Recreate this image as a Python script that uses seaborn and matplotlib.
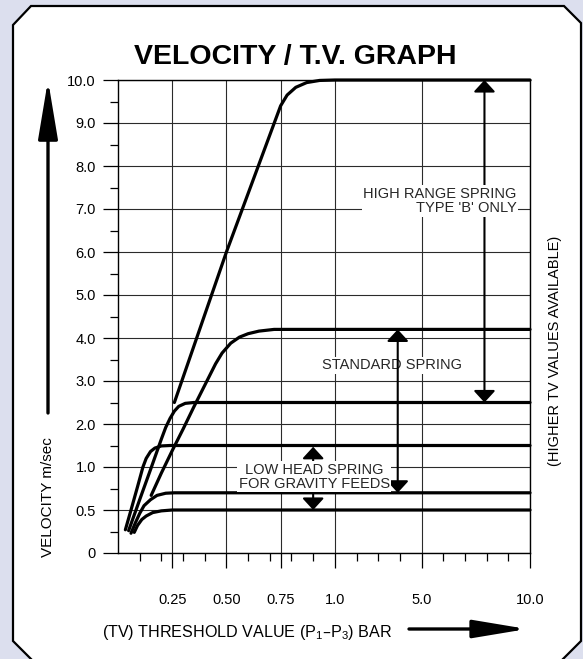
import numpy as np
import pandas as pd
import matplotlib
matplotlib.use("Agg")
import matplotlib.pyplot as plt
from matplotlib.patches import Polygon
import seaborn as sns

# spring curves: threshold value (bar) -> velocity (m/sec)
tv_05 = [0.075, 0.09, 0.11, 0.13, 0.16, 0.2, 0.25, 10.0]
vel_05 = [0.24, 0.32, 0.39, 0.43, 0.47, 0.49, 0.5, 0.5]

tv_07 = [0.06, 0.08, 0.1, 0.12, 0.15, 0.18, 0.22, 0.26, 10.0]
vel_07 = [0.23, 0.35, 0.46, 0.55, 0.62, 0.67, 0.695, 0.7, 0.7]

tv_15 = [0.034, 0.06, 0.09, 0.115, 0.13, 0.15, 0.17, 0.2, 0.24, 10.0]
vel_15 = [0.27, 0.5, 0.77, 1.0, 1.2, 1.36, 1.44, 1.49, 1.5, 1.5]

tv_25 = [0.049, 0.1, 0.15, 0.2, 0.22, 0.24, 0.26, 0.28, 0.31, 0.35, 10.0]
vel_25 = [0.26, 0.62, 0.97, 1.65, 1.92, 2.13, 2.3, 2.41, 2.48, 2.5, 2.5]

tv_42 = [0.153, 0.2, 0.25, 0.3, 0.35, 0.4, 0.45, 0.48, 0.52, 0.56, 0.6, 0.65, 0.72, 10.0]
vel_42 = [0.67, 0.93, 1.38, 1.88, 2.4, 2.9, 3.4, 3.65, 3.88, 4.02, 4.1, 4.16, 4.2, 4.2]

tv_10 = [0.26, 0.5, 0.75, 0.78, 0.82, 0.87, 0.93, 1.0, 10.0]
vel_10 = [2.5, 6.0, 9.4, 9.65, 9.83, 9.94, 9.99, 10.0, 10.0]

ytick_vals = [0, 0.5, 1, 2, 3, 4, 5, 6, 7, 8, 9, 10]
ytick_labels = ['0', '0.5', '1.0', '2.0', '3.0', '4.0', '5.0', '6.0', '7.0', '8.0', '9.0', '10.0']
ytick_minor = [0.25, 0.75, 1.5, 2.5, 3.5, 4.5, 5.5, 6.5, 7.5, 8.5, 9.5]
xtick_vals = [0.25, 0.5, 0.75, 1.0, 5.0, 10.0]
xtick_labels = ['0.25', '0.50', '0.75', '1.0', '5.0', '10.0']
xtick_minor = [0.1, 0.2, 0.3, 0.4, 0.6, 0.7, 0.8, 0.9, 2, 3, 4, 6, 7, 8, 9]

curves = {'0.5': (tv_05, vel_05), '0.7': (tv_07, vel_07), '1.5': (tv_15, vel_15),
          '2.5': (tv_25, vel_25), '4.2': (tv_42, vel_42), '10.0': (tv_10, vel_10)}
df = pd.concat([pd.DataFrame({'tv': t, 'vel': v, 'spring': k}) for k, (t, v) in curves.items()],
               ignore_index=True)


# the chart's axes are stretched: x is 10x finer below 1 bar, y is 2x finer below 1 m/s
def x_fwd(x):
    x = np.asarray(x, dtype=float)
    return np.where(x <= 1, x, 1 + (x - 1) / 10)


def x_inv(u):
    u = np.asarray(u, dtype=float)
    return np.where(u <= 1, u, 1 + (u - 1) * 10)


def y_fwd(v):
    v = np.asarray(v, dtype=float)
    return np.where(v <= 1, 2 * v, v + 1)


def y_inv(p):
    p = np.asarray(p, dtype=float)
    return np.where(p <= 2, p / 2, p - 1)


sns.set_theme(style="white")
plt.rcParams['font.family'] = ['Liberation Sans', 'DejaVu Sans']
plt.rcParams['mathtext.default'] = 'regular'

W, H = 583, 659
bg = '#dcdfee'
fig = plt.figure(figsize=(W / 100, H / 100), dpi=100, facecolor=bg)

# white panel with chamfered corners
pts = [(13, 25), (31, 6), (564, 6), (581, 23), (581, 641), (560, 662), (34, 662), (13, 641)]
panel = Polygon([(x / W, 1 - y / H) for x, y in pts], closed=True, transform=fig.transFigure,
                facecolor='white', edgecolor='black', lw=1.6, zorder=-1)
fig.add_artist(panel)

ax = fig.add_axes([118 / W, 1 - 553 / H, 412 / W, 473 / H])
ax.set_facecolor('white')

sns.lineplot(data=df, x='tv', y='vel', units='spring', estimator=None, sort=False,
             color='black', lw=2.3, legend=False, ax=ax, clip_on=False, zorder=3)

ax.set_xscale('function', functions=(x_fwd, x_inv))
ax.set_yscale('function', functions=(y_fwd, y_inv))
ax.set_xlim(0, 10)
ax.set_ylim(0, 10)

ax.set_yticks(ytick_vals)
ax.set_yticklabels(ytick_labels)
ax.set_yticks(ytick_minor, minor=True)
ax.set_xticks(xtick_vals)
ax.set_xticklabels(xtick_labels)
ax.set_xticks(xtick_minor, minor=True)
ax.set_xlabel('')
ax.set_ylabel('')

ax.set_axisbelow(True)
ax.grid(True, which='major', color='#2b2b2b', lw=0.8)
for s in ax.spines.values():
    s.set_color('black')
    s.set_linewidth(1.0)

ax.tick_params(axis='both', which='major', direction='out', length=11, width=0.9,
               color='black', labelsize=10.5, labelcolor='black')
ax.tick_params(axis='both', which='minor', direction='out', length=5.5, width=0.9, color='black')
ax.tick_params(axis='x', which='major', pad=18)
ax.tick_params(axis='y', which='major', pad=5)
ax.tick_params(axis='x', which='both', bottom=True)
ax.tick_params(axis='y', which='both', left=True)

box = dict(facecolor='white', edgecolor='none', pad=1.0)
head = '<|-|>,head_length=0.6,head_width=0.55'

# high range spring
ax.annotate('', xy=(7.9, 10.0), xytext=(7.9, 2.5),
            arrowprops=dict(arrowstyle=head, lw=1.5, color='black', shrinkA=0, shrinkB=0),
            zorder=4)
ax.text(0.968, 0.744, "HIGH RANGE SPRING\nTYPE 'B' ONLY", transform=ax.transAxes,
        ha='right', va='center', multialignment='right', fontsize=10.5,
        linespacing=1.05, bbox=box, zorder=5)

# standard spring
ax.text(0.665, 0.397, 'STANDARD SPRING', transform=ax.transAxes, ha='center', va='center',
        fontsize=10.5, bbox=box, zorder=4)
ax.annotate('', xy=(3.9, 4.2), xytext=(3.9, 0.7),
            arrowprops=dict(arrowstyle=head, lw=1.5, color='black', shrinkA=0, shrinkB=0),
            zorder=5)

# low head spring
ax.annotate('', xy=(0.9, 1.47), xytext=(0.9, 0.5),
            arrowprops=dict(arrowstyle=head, lw=1.5, color='black', shrinkA=0, shrinkB=0),
            zorder=4)
ax.text(0.476, 0.161, 'LOW HEAD SPRING\nFOR GRAVITY FEEDS', transform=ax.transAxes,
        ha='center', va='center', multialignment='center', fontsize=10.5,
        linespacing=1.0, bbox=box, zorder=5)

# title and axis captions
fig.text(295 / W, 1 - 57 / H, 'VELOCITY / T.V. GRAPH', ha='center', va='center',
         fontsize=20.5, fontweight='bold', color='black')
fig.text(48 / W, 1 - 497 / H, 'VELOCITY m/sec', rotation=90, ha='center', va='center',
         fontsize=11, color='black')
fig.text(102 / W, 1 - 632 / H, '(TV) THRESHOLD VALUE (P$_1$–P$_3$) BAR', ha='left',
         va='center', fontsize=11.6, color='black')
fig.text(555 / W, 1 - 351 / H, '(HIGHER TV VALUES AVAILABLE)', rotation=90, ha='center',
         va='center', fontsize=10.5, color='black')

# big direction arrows beside the axes
ax.annotate('', xy=(48, H - 80), xytext=(48, H - 413), xycoords='figure pixels',
            textcoords='figure pixels',
            arrowprops=dict(arrowstyle='-|>,head_length=3.6,head_width=0.6', lw=2.4,
                            color='black', shrinkA=0, shrinkB=0, mutation_scale=10),
            annotation_clip=False)
ax.annotate('', xy=(527, H - 629), xytext=(409, H - 629), xycoords='figure pixels',
            textcoords='figure pixels',
            arrowprops=dict(arrowstyle='-|>,head_length=3.3,head_width=0.55', lw=2.4,
                            color='black', shrinkA=0, shrinkB=0, mutation_scale=10),
            annotation_clip=False)

fig.savefig('out.png', dpi=100, facecolor=bg)
